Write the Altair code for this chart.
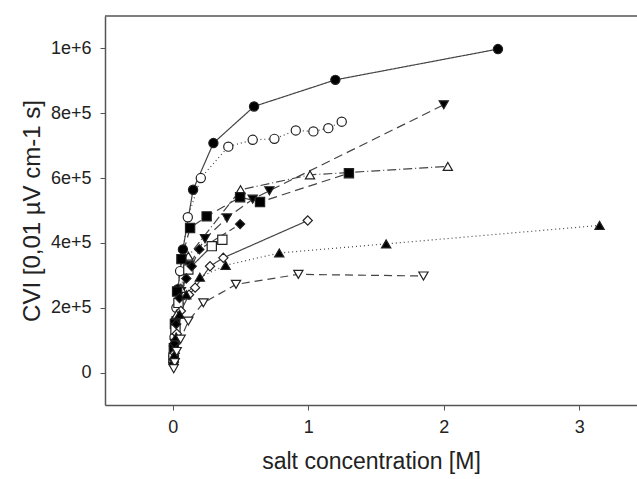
import altair as alt
import pandas as pd

series_names = ["s1", "s2", "s3", "s4", "s5", "s6", "s7", "s8", "s9", "s10"]
shapes = ["circle", "circle", "triangle-down", "triangle-up", "square",
          "square", "diamond", "diamond", "triangle-up", "triangle-down"]
fills = ["black", "white", "black", "white", "black",
         "white", "black", "white", "black", "white"]
dashes = [[1, 0], [1, 3], [9, 5], [9, 3, 1, 3], [9, 5],
          [1, 0], [6, 4], [1, 0], [1, 3], [8, 5]]

s1_x = [2.40, 1.20, 0.60, 0.30, 0.15, 0.075, 0.0375, 0.019, 0.009, 0.0045]
s1_y = [998e3, 903e3, 821e3, 708e3, 564e3, 380e3, 257e3, 160e3, 82e3, 30e3]
s2_x = [1.247, 1.148, 1.038, 0.908, 0.75, 0.59, 0.41, 0.207, 0.111, 0.054, 0.027, 0.013, 0.006]
s2_y = [774e3, 754e3, 744e3, 747e3, 721e3, 718e3, 697e3, 600e3, 479e3, 313e3, 200e3, 110e3, 50e3]
s3_x = [2.0, 0.713, 0.59, 0.40, 0.238, 0.12, 0.06, 0.03, 0.015, 0.007]
s3_y = [826e3, 561e3, 535e3, 477e3, 413e3, 330e3, 250e3, 160e3, 90e3, 40e3]
s4_x = [2.03, 1.013, 0.50, 0.115, 0.06, 0.03, 0.015, 0.007]
s4_y = [636e3, 610e3, 564e3, 359e3, 260e3, 180e3, 100e3, 45e3]
s5_x = [1.30, 0.644, 0.497, 0.25, 0.128, 0.064, 0.032, 0.016, 0.008]
s5_y = [615e3, 526e3, 541e3, 482e3, 446e3, 350e3, 250e3, 150e3, 75e3]
s6_x = [0.366, 0.288, 0.115, 0.042, 0.02, 0.005]
s6_y = [410e3, 390e3, 318e3, 215e3, 133e3, 46e3]
s7_x = [0.497, 0.196, 0.14, 0.1, 0.05, 0.025, 0.012, 0.006]
s7_y = [458e3, 380e3, 328e3, 290e3, 230e3, 150e3, 90e3, 40e3]
s8_x = [0.996, 0.373, 0.275, 0.165, 0.12, 0.06, 0.03, 0.015]
s8_y = [469e3, 354e3, 328e3, 262e3, 240e3, 190e3, 120e3, 60e3]
s9_x = [3.15, 1.575, 0.786, 0.39, 0.2, 0.1, 0.05, 0.025, 0.0125]
s9_y = [454e3, 397e3, 369e3, 331e3, 294e3, 240e3, 180e3, 110e3, 55e3]
s10_x = [1.85, 0.927, 0.467, 0.226, 0.115, 0.058, 0.029, 0.0145, 0.007]
s10_y = [298e3, 303e3, 272e3, 215e3, 159e3, 103e3, 65e3, 31e3, 12e3]

xs = [s1_x, s2_x, s3_x, s4_x, s5_x, s6_x, s7_x, s8_x, s9_x, s10_x]
ys = [s1_y, s2_y, s3_y, s4_y, s5_y, s6_y, s7_y, s8_y, s9_y, s10_y]

rows = []
for name, xv, yv in zip(series_names, xs, ys):
    for a, b in zip(xv, yv):
        rows.append({"series": name, "x": a, "y": b})
df = pd.DataFrame(rows)

W, H = 532, 389
xscale = alt.Scale(domain=[-0.5, 3.426], nice=False, zero=False)
yscale = alt.Scale(domain=[-1e5, 1.1e6], nice=False, zero=False)

xaxis = alt.Axis(values=[0, 1, 2, 3], format="d", title="salt concentration [M]",
                 grid=False, domainColor="#555", domainWidth=1.5, tickColor="#555",
                 tickSize=5, labelFontSize=18, labelColor="#222", labelPadding=8,
                 titleFontSize=23, titleFontWeight="normal", titleColor="#222",
                 titlePadding=14, labelFont="Liberation Sans", titleFont="Liberation Sans")
yaxis = alt.Axis(values=[0, 2e5, 4e5, 6e5, 8e5, 1e6],
                 labelExpr="datum.value == 0 ? '0' : format(datum.value, '.0e')",
                 title="CVI [0,01 µV cm-1 s]", grid=False, domainColor="#555",
                 domainWidth=1.5, tickColor="#555", tickSize=5, labelFontSize=18,
                 labelColor="#222", labelPadding=9, titleFontSize=24,
                 titleFontWeight="normal", titleColor="#222", titlePadding=6,
                 labelFont="Liberation Sans", titleFont="Liberation Sans")

base = alt.Chart(df)

lines = base.mark_line(color="#444", strokeWidth=1.2).encode(
    x=alt.X("x:Q", scale=xscale, axis=xaxis),
    y=alt.Y("y:Q", scale=yscale, axis=yaxis),
    detail="series:N",
    order="x:Q",
    strokeDash=alt.StrokeDash("series:N", scale=alt.Scale(domain=series_names, range=dashes), legend=None),
)

points = base.mark_point(filled=True, size=85, stroke="#222", strokeWidth=1.2, opacity=1).encode(
    x=alt.X("x:Q", scale=xscale),
    y=alt.Y("y:Q", scale=yscale),
    shape=alt.Shape("series:N", scale=alt.Scale(domain=series_names, range=shapes), legend=None),
    fill=alt.Fill("series:N", scale=alt.Scale(domain=series_names, range=fills), legend=None),
)

top_border = alt.Chart(pd.DataFrame({"a": [0]})).mark_rule(color="#555", strokeWidth=1.5).encode(
    x=alt.value(0), x2=alt.value(W), y=alt.value(0)
)

chart = alt.layer(lines, points, top_border).properties(
    width=W, height=H,
    autosize=alt.AutoSizeParams(type="none"),
    padding={"left": 105, "top": 16, "right": 0, "bottom": 74},
    background="white",
).configure_view(stroke=None)

chart.save("out.html", embed_options={"renderer": "svg", "actions": False})
